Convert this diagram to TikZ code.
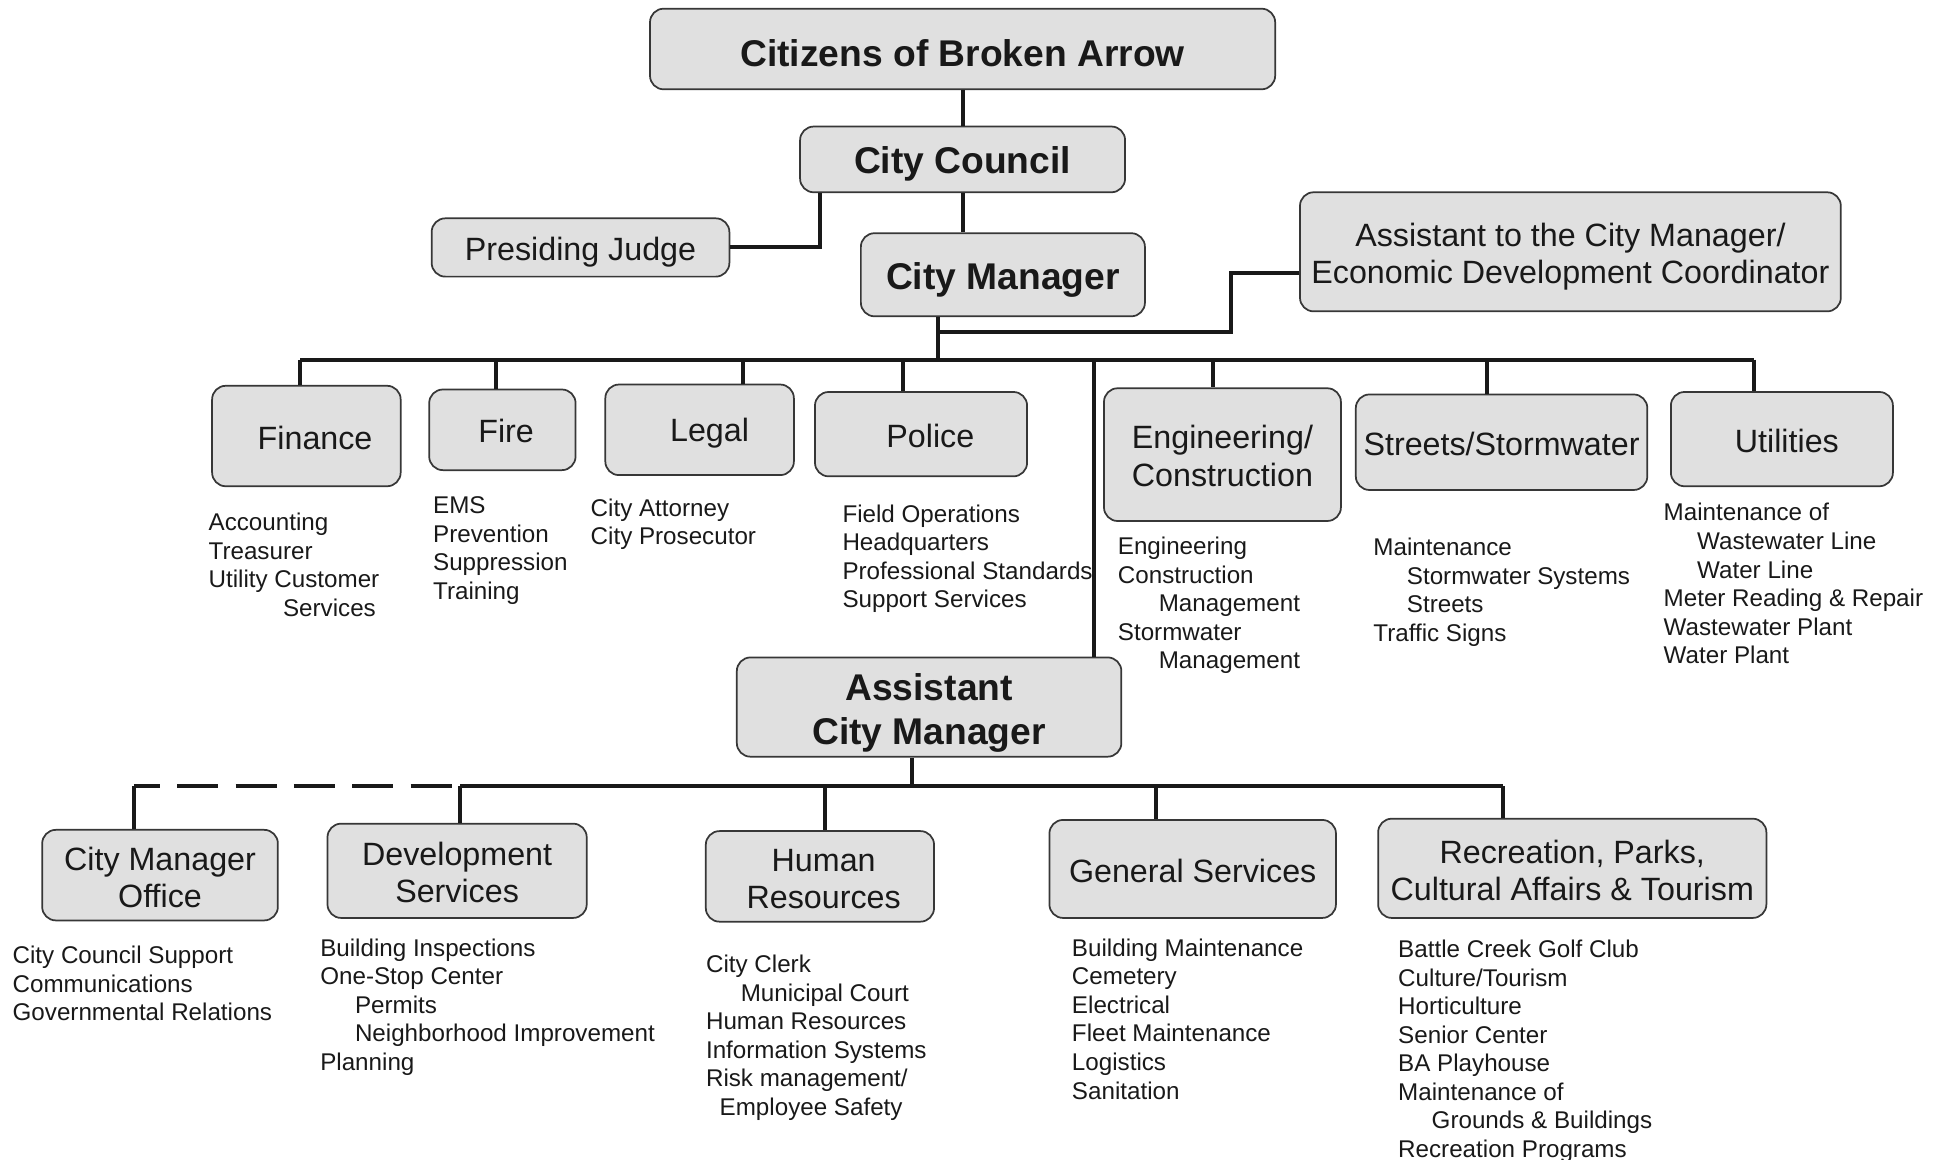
\documentclass[tikz,border=0pt]{standalone}
\usepackage{fontspec}
\setmainfont{Liberation Sans}
\usetikzlibrary{calc}
\definecolor{boxfill}{RGB}{224,224,224}
\definecolor{boxline}{RGB}{55,55,55}
\definecolor{ink}{RGB}{25,25,25}
% list of duties under a department: name, x, first baseline, {indent/text,...}
\newcommand\itemlist[4]{%
  \foreach \dx/\t [count=\i] in {#4}{%
    \node[item, anchor=base west] (#1-\i) at ({#2+\dx}, {#3+23*(\i-1)}) {\t};}}
% strut that lowers the first line of a two-line label
\newcommand\lift[1]{\rule{0pt}{#1}}
\begin{document}
\begin{tikzpicture}[x=1pt,y=-1pt,
  box/.style={draw=boxline, line width=1.4pt, fill=boxfill, rounded corners=11pt,
              inner sep=0pt, align=center, text=ink},
  % a strut in the first line sets how low the label sits in its box
  strut/.style={execute at begin node={\rule{0pt}{#1}}},
  head/.style={box, font=\fontsize{30}{36}\selectfont\bfseries, strut=29pt},
  dept/.style={box, font=\fontsize{26}{30}\selectfont, strut=21.5pt},
  item/.style={font=\fontsize{19.5}{23}\selectfont, inner sep=0pt, text=ink},
  link/.style={line width=3.2pt, draw=ink},
]
\useasboundingbox (0,0) rectangle (1568,935);

% ---- top levels
\node[head, strut=27pt, minimum width=504pt, minimum height=65pt] (citizens) at (776,39.5) {Citizens of Broken Arrow};
\node[head, minimum width=262pt, minimum height=53pt] (council) at (776,128.5) {City Council};
\node[dept, strut=27pt, minimum width=240pt, minimum height=47pt] (judge) at (468,199.5) {Presiding Judge};
\node[head, strut=30pt, minimum width=229pt, minimum height=67pt] (manager) at (808.5,221.5) {City Manager};
\node[dept, minimum width=436pt, minimum height=96pt] (assistant) at (1266,203)
  {\lift{27pt}Assistant to the City Manager/\\Economic Development Coordinator};

% ---- departments under the City Manager
\node[dept, minimum width=152pt, minimum height=81pt] (finance) at (247,351.5) {\hspace*{14pt}Finance};
\node[dept, minimum width=118pt, minimum height=65pt] (fire) at (405,346.5) {\hspace*{6pt}Fire};
\node[dept, strut=24pt, minimum width=152pt, minimum height=73pt] (legal) at (564,346.5) {\hspace*{16pt}Legal};
\node[dept, minimum width=171pt, minimum height=68pt] (police) at (742.5,350) {\hspace*{15pt}Police};
\node[dept, minimum width=191pt, minimum height=107pt] (eng) at (985.5,366.5) {\lift{21pt}Engineering/\\Construction};
\node[dept, minimum width=235pt, minimum height=77pt] (streets) at (1210.5,356.5) {Streets/Stormwater};
\node[dept, minimum width=179pt, minimum height=76pt] (util) at (1436.5,354) {\hspace*{8pt}Utilities};

% ---- Assistant City Manager and its departments
\node[head, minimum width=310pt, minimum height=80pt] (acm) at (749,570) {\lift{31pt}Assistant\\City Manager};
\node[dept, minimum width=190pt, minimum height=73pt] (cmo) at (129,705.5) {\lift{22pt}City Manager\\Office};
\node[dept, minimum width=209pt, minimum height=76pt] (dev) at (368.5,702) {\lift{22pt}Development\\Services};
\node[dept, minimum width=184pt, minimum height=73pt] (hr) at (661,706.5) {\lift{22pt}\hspace*{6pt}Human\\\hspace*{6pt}Resources};
\node[dept, strut=22pt, minimum width=231pt, minimum height=79pt] (gen) at (961.5,700.5) {General Services};
\node[dept, minimum width=313pt, minimum height=80pt] (rec) at (1267.5,700) {\lift{22pt}Recreation, Parks,\\Cultural Affairs \& Tourism};

% ---- connectors, upper part
\draw[link] (citizens.south) -- (council.north);
\draw[link] (council.south) -- (council.south |- manager.north);
\draw[link] ([xshift=-115pt]council.south) |- (judge.east);

\coordinate (b1) at (242,290);
\coordinate (b2) at (400,290);
\coordinate (b3) at (599,290);
\coordinate (b4) at (728,290);
\coordinate (b5) at (978,290);
\coordinate (b6) at (1199,290);
\coordinate (b7) at (1414,290);
\coordinate (acmtap) at (882,290);
\coordinate (cmjoint) at (756,268);

\draw[link] ([xshift=-52.5pt]manager.south) -- ([xshift=-52.5pt]manager.south |- b1);
\draw[link] (cmjoint) -| ($(assistant.west)+(-55,17)$) -- ($(assistant.west)+(0,17)$);
\draw[link] (b1) -- (b7);
\draw[link] (b1) -- (b1 |- finance.north);
\draw[link] (b2) -- (b2 |- fire.north);
\draw[link] (b3) -- (b3 |- legal.north);
\draw[link] (b4) -- (b4 |- police.north);
\draw[link] (b5) -- (b5 |- eng.north);
\draw[link] (b6) -- (b6 |- streets.north);
\draw[link] (b7) -- (b7 |- util.north);
\draw[link] (acmtap) -- (acmtap |- acm.north);

% ---- connectors, lower part
\coordinate (l1) at (108,634);
\coordinate (l2) at (371,634);
\coordinate (l3) at (665,634);
\coordinate (l4) at (932,634);
\coordinate (l5) at (1212,634);

\draw[link] ([xshift=-14pt]acm.south) -- ([xshift=-14pt]acm.south |- l1);
\draw[link, dash pattern=on 33pt off 14pt, dash phase=12pt] (l1) -- (l2);
\draw[link] (l2) -- (l5);
\draw[link] (l1) -- (l1 |- cmo.north);
\draw[link] (l2) -- (l2 |- dev.north);
\draw[link] (l3) -- (l3 |- hr.north);
\draw[link] (l4) -- (l4 |- gen.north);
\draw[link] (l5) -- (l5 |- rec.north);

% ---- duty lists
\itemlist{finlist}{168}{428}{0/Accounting, 0/Treasurer, 0/Utility Customer, 60/Services}
\itemlist{firelist}{349}{414}{0/EMS, 0/Prevention, 0/Suppression, 0/Training}
\itemlist{legallist}{476}{416}{0/City Attorney, 0/City Prosecutor}
\itemlist{policelist}{679}{421}{0/Field Operations, 0/Headquarters, 0/Professional Standards, 0/Support Services}
\itemlist{englist}{901}{447}{0/Engineering, 0/Construction, 33/Management, 0/Stormwater, 33/Management}
\itemlist{streetlist}{1107}{448}{0/Maintenance, 27/Stormwater Systems, 27/Streets, 0/Traffic Signs}
\itemlist{utillist}{1341}{420}{0/Maintenance of, 27/Wastewater Line, 27/Water Line, 0/Meter Reading \& Repair, 0/Wastewater Plant, 0/Water Plant}

\itemlist{cmolist}{10}{777}{0/City Council Support, 0/Communications, 0/Governmental Relations}
\itemlist{devlist}{258}{771}{0/Building Inspections, 0/One-Stop Center, 28/Permits, 28/Neighborhood Improvement, 0/Planning}
\itemlist{hrlist}{569}{784}{0/City Clerk, 28/Municipal Court, 0/Human Resources, 0/Information Systems, 0/{Risk management/}, 11/Employee Safety}
\itemlist{genlist}{864}{771}{0/Building Maintenance, 0/Cemetery, 0/Electrical, 0/Fleet Maintenance, 0/Logistics, 0/Sanitation}
\itemlist{reclist}{1127}{772}{0/Battle Creek Golf Club, 0/{Culture/Tourism}, 0/Horticulture, 0/Senior Center, 0/BA Playhouse, 0/Maintenance of, 27/Grounds \& Buildings, 0/Recreation Programs}
\end{tikzpicture}
\end{document}
